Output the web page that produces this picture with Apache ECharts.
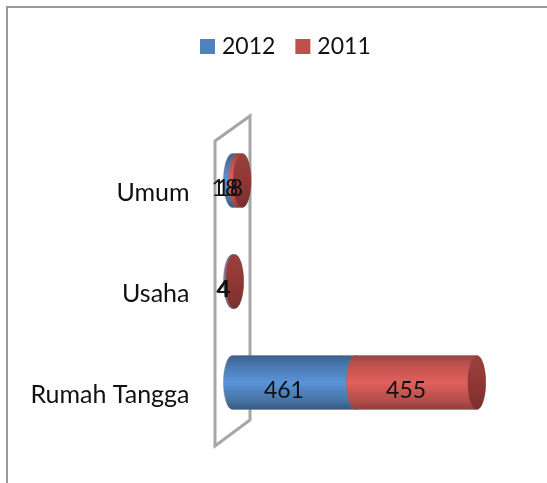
<!DOCTYPE html>
<html><head><meta charset="utf-8">
<style>html,body{margin:0;padding:0;background:#fff}#c{width:547px;height:483px}</style>
<script src="https://cdn.jsdelivr.net/npm/echarts@6/dist/echarts.min.js"></script>
</head><body><div id="c"></div>
<script>
var categories = ['Rumah Tangga', 'Usaha', 'Umum'];
var values2012 = [461, 4, 18];
var values2011 = [455, 4, 18];
var seriesNames = ['2012', '2011'];

var FONT = 'Lato, "Open Sans", sans-serif';
var RX = 9, RY = 27;

function grad(stops) {
  return { type: 'linear', x: 0, y: 0, x2: 0, y2: 1,
    colorStops: stops.map(function (s) { return { offset: s[0], color: s[1] }; }) };
}
var blueGrad = grad([[0, '#3a5f8c'], [0.15, '#4674a8'], [0.5, '#5b94da'], [0.85, '#44719f'], [1, '#34577f']]);
var redGrad = grad([[0, '#94423f'], [0.15, '#bb504d'], [0.5, '#e0605c'], [0.85, '#b04c49'], [1, '#8c3e3c']]);
var capGrad = grad([[0, '#98413f'], [0.5, '#8f3836'], [1, '#7c2f2d']]);

function makeRender(fill, withCap) {
  return function (params, api) {
    var row = api.value(0);
    var a = api.coord([api.value(1), row]);
    var b = api.coord([api.value(2), row]);
    var cy = a[1], x0 = a[0], x1 = b[0];
    var k = 0.5523;
    var path = 'M' + x0 + ' ' + (cy - RY) +
      'L' + x1 + ' ' + (cy - RY) +
      'C' + (x1 + RX * k) + ' ' + (cy - RY) + ' ' + (x1 + RX) + ' ' + (cy - RY * k) + ' ' + (x1 + RX) + ' ' + cy +
      'C' + (x1 + RX) + ' ' + (cy + RY * k) + ' ' + (x1 + RX * k) + ' ' + (cy + RY) + ' ' + x1 + ' ' + (cy + RY) +
      'L' + x0 + ' ' + (cy + RY) +
      'C' + (x0 - RX * k) + ' ' + (cy + RY) + ' ' + (x0 - RX) + ' ' + (cy + RY * k) + ' ' + (x0 - RX) + ' ' + cy +
      'C' + (x0 - RX) + ' ' + (cy - RY * k) + ' ' + (x0 - RX * k) + ' ' + (cy - RY) + ' ' + x0 + ' ' + (cy - RY) + 'Z';
    var children = [{
      type: 'path', shape: { pathData: path },
      style: { fill: fill, stroke: 'rgba(120,120,120,0.45)', lineWidth: 1 }
    }];
    if (withCap) {
      children.push({
        type: 'ellipse', shape: { cx: x1, cy: cy, rx: RX, ry: RY },
        style: { fill: capGrad }
      });
    }
    children.push({
      type: 'text', z2: 100,
      style: {
        text: String(api.value(3)), x: (x0 + x1) / 2 - 10, y: cy + 8,
        align: 'center', verticalAlign: 'middle',
        fill: '#111', font: '23px ' + FONT
      }
    });
    return { type: 'group', children: children };
  };
}

function rows(vals, base) {
  return vals.map(function (v, i) {
    var s = base ? base[i] : 0;
    return [i, s, s + v, v];
  });
}

var chart = echarts.init(document.getElementById('c'), null, { renderer: 'canvas' });
chart.setOption({
  animation: false,
  backgroundColor: '#fff',
  legend: {
    data: seriesNames, left: 200, top: 35, padding: 0, icon: 'rect',
    itemWidth: 15, itemHeight: 15, itemGap: 20,
    textStyle: { fontFamily: FONT, fontSize: 23, color: '#111', padding: [0, 0, 0, 2] }
  },
  grid: { left: 232.5, top: 130, width: 266.6, height: 303 },
  xAxis: { type: 'value', min: 0, max: 1000, show: false },
  yAxis: {
    type: 'category', data: categories,
    axisLine: { show: false }, axisTick: { show: false }, splitLine: { show: false },
    axisLabel: {
      margin: 43, fontFamily: FONT, fontSize: 25, color: '#111',
      verticalAlign: 'top'
    }
  },
  graphic: [
    { type: 'polyline', silent: true, z: 0,
      shape: { points: [[7, 490], [7, 7], [560, 7]] },
      style: { fill: 'none', stroke: '#999', lineWidth: 2 } },
    { type: 'polygon', silent: true, z: 0,
      shape: { points: [[215, 141], [250, 116], [250, 420], [215, 446]] },
      style: { fill: 'none', stroke: '#a6a6a6', lineWidth: 3 } }
  ],
  series: [
    { name: seriesNames[0], type: 'custom', z: 2, itemStyle: { color: '#4f81bd' },
      encode: { x: [1, 2], y: 0 },
      renderItem: makeRender(blueGrad, false), data: rows(values2012) },
    { name: seriesNames[1], type: 'custom', z: 2, itemStyle: { color: '#c0504d' },
      encode: { x: [1, 2], y: 0 },
      renderItem: makeRender(redGrad, true), data: rows(values2011, values2012) }
  ]
});
</script></body></html>
